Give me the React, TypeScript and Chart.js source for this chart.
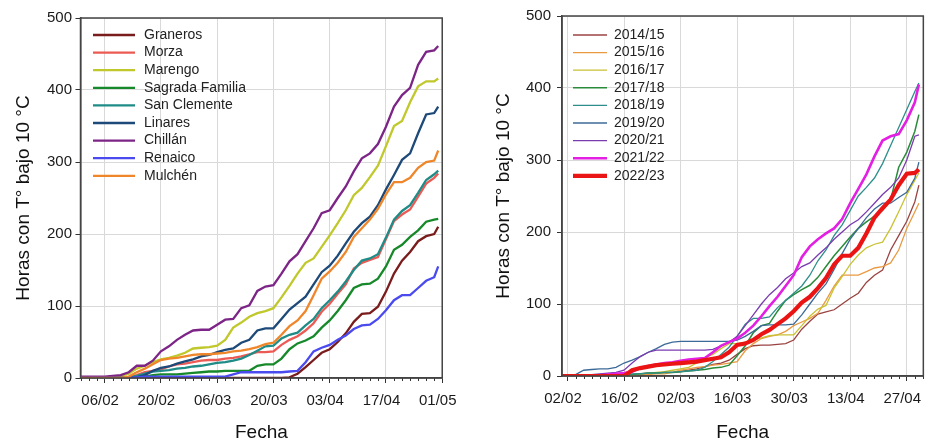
import React, { useEffect, useRef } from "react";
import { Chart, registerables } from "chart.js";

Chart.register(...registerables);
Chart.defaults.font.family = '"Liberation Sans", Arial, sans-serif';

// Days counted from 01/02 (day 0)
const DAYS = [-1, 1, 3, 5, 7, 9, 11, 13, 15, 17, 19, 21, 23, 25, 27, 29, 31, 33, 35, 37, 39, 41, 43, 45, 47, 49, 51, 53, 55, 57, 59, 61, 63, 65, 67, 69, 71, 73, 75, 77, 79, 81, 83, 85, 87, 88];

// ---- Left chart: stations ----
const LEFT_NAMES = ["Graneros", "Morza", "Marengo", "Sagrada Familia", "San Clemente", "Linares", "Chillán", "Renaico", "Mulchén"];
const LEFT_COLORS = ["#7a1c1c", "#ec5a55", "#c0c82c", "#17892b", "#1f8c88", "#1d4a78", "#7d2487", "#4a4aee", "#f0862a"];
const GRANEROS = [0, 0, 0, 0, 0, 0, 0, 0, 0, 0, 0, 0, 0, 0, 0, 0, 0, 0, 0, 0, 0, 0, 0, 0, 0, 0, 1, 6, 15, 25, 35, 40, 50, 62, 78, 89, 90, 99, 120, 145, 163, 175, 190, 197, 200, 210];
const MORZA = [0, 0, 0, 0, 0, 0, 1, 4, 8, 10, 12, 16, 19, 20, 22, 24, 25, 25, 27, 28, 30, 33, 36, 36, 37, 46, 53, 58, 66, 76, 92, 103, 117, 130, 152, 160, 164, 168, 193, 218, 227, 234, 252, 270, 278, 284];
const MARENGO = [0, 0, 0, 0, 1, 3, 6, 13, 17, 22, 26, 28, 31, 35, 41, 42, 43, 45, 53, 70, 77, 85, 90, 93, 97, 112, 128, 145, 160, 166, 182, 198, 215, 233, 254, 264, 279, 295, 322, 350, 357, 383, 405, 412, 412, 416];
const SAGRADA_FAMILIA = [0, 0, 0, 0, 0, 0, 0, 1, 2, 4, 5, 5, 5, 6, 7, 8, 9, 9, 10, 10, 10, 10, 17, 19, 19, 27, 40, 48, 52, 58, 70, 80, 93, 108, 125, 130, 131, 138, 155, 178, 185, 196, 205, 217, 220, 221];
const SAN_CLEMENTE = [0, 0, 0, 0, 0, 0, 1, 3, 6, 9, 10, 11, 13, 14, 16, 17, 19, 21, 22, 24, 27, 32, 38, 44, 45, 55, 60, 63, 73, 82, 97, 108, 120, 134, 150, 163, 166, 172, 195, 220, 232, 240, 257, 275, 283, 288];
const LINARES = [0, 0, 0, 0, 0, 0, 0, 1, 4, 10, 14, 16, 20, 23, 26, 30, 32, 36, 39, 41, 49, 53, 66, 69, 69, 82, 95, 104, 113, 130, 147, 156, 170, 187, 203, 215, 224, 240, 262, 282, 303, 312, 340, 366, 368, 377];
const CHILLAN = [2, 2, 2, 2, 3, 4, 8, 17, 17, 24, 37, 44, 53, 60, 66, 67, 67, 74, 81, 82, 97, 101, 121, 127, 129, 145, 162, 172, 190, 208, 229, 233, 250, 266, 287, 305, 312, 325, 349, 377, 393, 403, 435, 453, 455, 461];
const RENAICO = [0, 0, 0, 0, 0, 0, 0, 1, 2, 2, 2, 2, 2, 2, 2, 2, 2, 2, 2, 5, 8, 8, 8, 8, 8, 8, 9, 10, 22, 37, 42, 46, 53, 59, 68, 73, 74, 82, 94, 108, 115, 115, 125, 135, 140, 155];
const MULCHEN = [0, 0, 0, 0, 0, 0, 2, 8, 13, 19, 25, 27, 28, 30, 32, 33, 33, 34, 35, 37, 38, 40, 43, 47, 49, 60, 72, 80, 93, 115, 138, 148, 160, 175, 196, 208, 220, 235, 255, 272, 272, 278, 292, 300, 302, 316];
const LEFT_SERIES = [GRANEROS, MORZA, MARENGO, SAGRADA_FAMILIA, SAN_CLEMENTE, LINARES, CHILLAN, RENAICO, MULCHEN];
const LEFT_TICK_DAYS = [5, 19, 33, 47, 61, 75, 89];

// ---- Right chart: seasons ----
const RIGHT_NAMES = ["2014/15", "2015/16", "2016/17", "2017/18", "2018/19", "2019/20", "2020/21", "2021/22", "2022/23"];
const RIGHT_COLORS = ["#9a4442", "#e99a42", "#c9c233", "#2a8c3a", "#2e8e8c", "#3c6a98", "#7a3cb0", "#e21fe2", "#ea1414"];
const RIGHT_WIDTHS = [1.3, 1.3, 1.3, 1.5, 1.3, 1.3, 1.3, 2.6, 4.2];
const S2014 = [0, 0, 0, 0, 0, 0, 0, 0, 0, 2, 3, 4, 4, 5, 5, 6, 8, 10, 13, 16, 18, 22, 30, 38, 42, 43, 43, 44, 45, 50, 65, 76, 86, 89, 92, 100, 108, 115, 130, 140, 147, 175, 195, 215, 242, 265];
const S2015 = [0, 0, 0, 0, 0, 0, 0, 0, 0, 1, 2, 2, 3, 3, 5, 8, 10, 12, 13, 15, 16, 18, 20, 35, 45, 52, 55, 57, 62, 70, 75, 80, 87, 105, 125, 140, 140, 140, 145, 150, 152, 157, 175, 205, 228, 240];
const S2016 = [0, 0, 0, 0, 0, 0, 0, 0, 0, 2, 3, 4, 5, 6, 8, 10, 12, 18, 25, 30, 38, 45, 45, 47, 50, 53, 56, 57, 57, 57, 70, 83, 93, 98, 122, 138, 155, 168, 178, 183, 186, 205, 228, 252, 272, 282];
const S2017 = [0, 0, 0, 0, 0, 0, 0, 0, 0, 2, 3, 4, 4, 5, 5, 6, 7, 8, 9, 11, 12, 15, 28, 42, 60, 70, 73, 90, 105, 113, 120, 126, 137, 152, 167, 180, 193, 205, 214, 222, 230, 245, 290, 311, 340, 363];
const S2018 = [0, 0, 0, 0, 1, 1, 2, 2, 2, 3, 3, 4, 4, 5, 5, 6, 7, 8, 12, 20, 30, 40, 55, 72, 80, 80, 82, 95, 105, 115, 125, 140, 160, 175, 195, 210, 230, 250, 262, 275, 295, 320, 345, 370, 395, 407];
const S2019 = [0, 0, 2, 8, 9, 10, 10, 12, 18, 22, 27, 33, 38, 44, 47, 48, 48, 48, 48, 48, 48, 48, 50, 55, 62, 70, 71, 71, 71, 72, 85, 100, 115, 128, 148, 170, 190, 205, 220, 232, 240, 240, 248, 255, 275, 297];
const S2020 = [0, 0, 0, 1, 2, 3, 4, 5, 8, 18, 27, 33, 36, 36, 36, 36, 36, 36, 36, 37, 42, 47, 55, 70, 85, 100, 113, 123, 135, 143, 152, 157, 168, 178, 190, 200, 210, 217, 228, 240, 252, 262, 275, 300, 333, 335];
const S2021 = [0, 0, 0, 0, 0, 1, 2, 3, 4, 6, 11, 14, 16, 18, 19, 21, 23, 24, 25, 33, 42, 47, 52, 60, 70, 83, 97, 110, 125, 140, 165, 180, 190, 198, 205, 218, 240, 260, 280, 305, 327, 333, 336, 355, 380, 405];
const S2022 = [0, 0, 0, 0, 0, 0, 0, 0, 0, 8, 11, 13, 15, 16, 17, 18, 19, 20, 22, 24, 26, 33, 43, 45, 50, 58, 64, 72, 80, 90, 102, 110, 122, 136, 155, 167, 167, 178, 198, 220, 233, 245, 265, 281, 282, 287];
const RIGHT_SERIES = [S2014, S2015, S2016, S2017, S2018, S2019, S2020, S2021, S2022];
const RIGHT_TICK_DAYS = [1, 15, 29, 43, 57, 71, 85];

const Y_TITLE = "Horas con T° bajo 10 °C";
const X_TITLE = "Fecha";

function fmtDay(d: number): string {
  const dt = new Date(2023, 1, 1 + d);
  const dd = String(dt.getDate()).padStart(2, "0");
  const mm = String(dt.getMonth() + 1).padStart(2, "0");
  return `${dd}/${mm}`;
}

const decoPlugin = {
  id: "deco",
  afterDraw(chart: any, _args: any, opts: any) {
    const { ctx, chartArea: a } = chart;
    const xs = chart.scales.x;
    ctx.save();
    // minor ticks every 2 days
    ctx.strokeStyle = "#333";
    ctx.lineWidth = 1;
    for (let d = Math.ceil(xs.min); d <= xs.max; d++) {
      if (Math.abs(d % 2) !== 1) continue;
      if (opts.majors.includes(d)) continue;
      const px = Math.round(xs.getPixelForValue(d)) + 0.5;
      ctx.beginPath();
      ctx.moveTo(px, a.bottom);
      ctx.lineTo(px, a.bottom + 3);
      ctx.stroke();
    }
    // frame
    ctx.strokeStyle = "#444";
    ctx.lineWidth = 1.5;
    ctx.strokeRect(a.left, a.top, a.right - a.left, a.bottom - a.top);
    // legend
    ctx.font = '14px "Liberation Sans", Arial, sans-serif';
    ctx.textBaseline = "middle";
    ctx.textAlign = "left";
    chart.data.datasets.forEach((ds: any, i: number) => {
      const y = opts.legendY + i * opts.legendGap;
      ctx.strokeStyle = ds.borderColor;
      ctx.lineWidth = ds.borderWidth;
      ctx.beginPath();
      ctx.moveTo(opts.lineX0, y);
      ctx.lineTo(opts.lineX1, y);
      ctx.stroke();
      ctx.fillStyle = "#222";
      ctx.fillText(ds.label, opts.textX, y);
    });
    ctx.restore();
  },
};

function makeConfig(p: any): any {
  const datasets = p.series.map((vals: number[], i: number) => ({
    label: p.names[i],
    data: DAYS.map((d, k) => ({ x: d, y: vals[k] })),
    borderColor: p.colors[i],
    backgroundColor: p.colors[i],
    borderWidth: p.widths[i],
    pointRadius: 0,
    tension: 0,
    fill: false,
    order: p.series.length - i,
  }));
  return {
    type: "line",
    data: { datasets },
    plugins: [decoPlugin],
    options: {
      responsive: false,
      animation: false,
      devicePixelRatio: 1,
      layout: { padding: { left: 0, top: p.top, right: p.right, bottom: 0 } },
      plugins: {
        legend: { display: false },
        tooltip: { enabled: false },
        deco: {
          majors: p.majors,
          legendY: 35,
          legendGap: 17.6,
          lineX0: p.lineX0,
          lineX1: p.lineX1,
          textX: p.textX,
        },
      },
      scales: {
        x: {
          type: "linear",
          min: p.xmin,
          max: p.xmax,
          afterBuildTicks: (s: any) => {
            s.ticks = p.majors.map((v: number) => ({ value: v }));
          },
          afterFit: (s: any) => {
            s.height = p.xAxisH;
          },
          ticks: {
            callback: (v: number) => fmtDay(v),
            autoSkip: false,
            maxRotation: 0,
            minRotation: 0,
            labelOffset: -4.5,
            padding: 9,
            color: "#1a1a1a",
            font: { size: 15 },
          },
          grid: { color: "#d9d9d9", lineWidth: 1, tickColor: "#333", tickLength: 5 },
          border: { color: "#444", width: 1.5 },
          title: {
            display: true,
            text: X_TITLE,
            color: "#111",
            font: { size: 19, lineHeight: 1 },
            padding: 0,
          },
        },
        y: {
          type: "linear",
          min: 0,
          max: 500,
          afterFit: (s: any) => {
            s.width = p.yAxisW;
          },
          ticks: { stepSize: 100, padding: p.yPad, color: "#1a1a1a", font: { size: 15 } },
          grid: { color: "#d9d9d9", lineWidth: 1, tickColor: "#333", tickLength: 5 },
          border: { color: "#444", width: 1.5 },
          title: {
            display: true,
            text: Y_TITLE,
            color: "#111",
            font: { size: 19, lineHeight: 1 },
            padding: { top: p.yTitlePad, bottom: 0 },
          },
        },
      },
    },
  };
}

function ChartCanvas({ params, left, width }: { params: any; left: number; width: number }) {
  const ref = useRef<HTMLCanvasElement | null>(null);
  useEffect(() => {
    if (!ref.current) return;
    const chart = new Chart(ref.current, makeConfig(params));
    return () => chart.destroy();
  }, []);
  return (
    <canvas
      ref={ref}
      width={width}
      height={442}
      style={{ position: "absolute", left, top: 0, width, height: 442 }}
    />
  );
}

const LEFT_PARAMS = {
  series: LEFT_SERIES,
  names: LEFT_NAMES,
  colors: LEFT_COLORS,
  widths: LEFT_SERIES.map(() => 2.3),
  majors: LEFT_TICK_DAYS,
  xmin: -1,
  xmax: 89,
  top: 18,
  right: 26,
  yAxisW: 80.5,
  xAxisH: 64,
  yPad: 3.5,
  yTitlePad: 14,
  lineX0: 93,
  lineX1: 135,
  textX: 144,
};

const RIGHT_PARAMS = {
  series: RIGHT_SERIES,
  names: RIGHT_NAMES,
  colors: RIGHT_COLORS,
  widths: RIGHT_WIDTHS,
  majors: RIGHT_TICK_DAYS,
  xmin: -0.36,
  xmax: 89.1,
  top: 16,
  right: 10,
  yAxisW: 92,
  xAxisH: 66,
  yPad: 6,
  yTitlePad: 24,
  lineX0: 573 - 470,
  lineX1: 607 - 470,
  textX: 614 - 470,
};

export default function App() {
  return (
    <div style={{ position: "absolute", left: 0, top: 0, width: 935, height: 442, background: "#fff" }}>
      <ChartCanvas params={LEFT_PARAMS} left={0} width={470} />
      <ChartCanvas params={RIGHT_PARAMS} left={470} width={465} />
    </div>
  );
}
